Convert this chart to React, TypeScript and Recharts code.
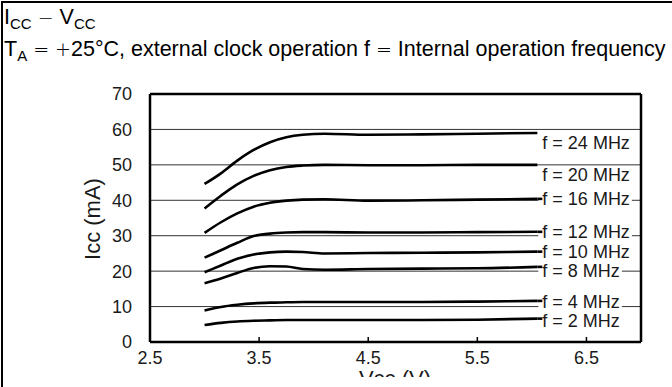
import { LineChart, Line, XAxis, YAxis, CartesianGrid, ReferenceLine } from 'recharts';

const VCC = [3.0, 3.15, 3.3, 3.45, 3.6, 3.75, 3.9, 4.1, 4.5, 5.0, 5.5, 6.05];
const F24 = [44.6, 47.6, 51.2, 54.2, 56.4, 57.8, 58.5, 58.8, 58.5, 58.6, 58.8, 59.0];
const F20 = [37.7, 41.3, 44.5, 46.9, 48.5, 49.4, 49.8, 50.0, 49.9, 49.9, 50.0, 50.0];
const F16 = [30.8, 33.8, 36.3, 38.2, 39.3, 39.9, 40.2, 40.3, 39.9, 40.0, 40.2, 40.4];
const F12 = [23.8, 25.9, 28.0, 29.9, 30.6, 30.9, 31.0, 31.0, 30.9, 30.9, 31.0, 31.1];
const F10 = [19.7, 21.6, 23.5, 24.7, 25.3, 25.5, 25.4, 25.0, 25.1, 25.2, 25.3, 25.5];
const F8 = [16.6, 17.9, 19.5, 20.9, 21.4, 21.3, 20.6, 20.4, 20.6, 20.7, 20.8, 21.2];
const F4 = [8.9, 9.9, 10.5, 10.9, 11.1, 11.2, 11.3, 11.3, 11.3, 11.3, 11.4, 11.6];
const F2 = [4.8, 5.4, 5.8, 6.0, 6.1, 6.2, 6.2, 6.2, 6.2, 6.2, 6.3, 6.6];

const X_TICKS = [2.5, 3.5, 4.5, 5.5, 6.5];
const Y_TICKS = [0, 10, 20, 30, 40, 50, 60, 70];

const SERIES = [
  { key: 'f24', name: 'f = 24 MHz', values: F24 },
  { key: 'f20', name: 'f = 20 MHz', values: F20 },
  { key: 'f16', name: 'f = 16 MHz', values: F16 },
  { key: 'f12', name: 'f = 12 MHz', values: F12 },
  { key: 'f10', name: 'f = 10 MHz', values: F10 },
  { key: 'f8', name: 'f = 8 MHz', values: F8 },
  { key: 'f4', name: 'f = 4 MHz', values: F4 },
  { key: 'f2', name: 'f = 2 MHz', values: F2 },
];

// vertical nudge of the end labels (px)
const LABEL_DY: Record<string, number> = { f24: 10, f20: 10, f16: 0, f12: 0, f10: 0, f8: 4, f4: 1, f2: 1.5 };

const data = VCC.map((v, i) => {
  const row: Record<string, number> = { vcc: v };
  SERIES.forEach((s) => (row[s.key] = s.values[i]));
  return row;
});

const FONT = '"Liberation Sans", Arial, sans-serif';
const INK = '#1a1a1a';
const LABEL_SIZE = 18;
const GLYPH: Record<string, number> = { f: 0.278, ' ': 0.278, '=': 0.584, M: 0.833, H: 0.722, z: 0.5 };
const textWidth = (s: string) => s.split('').reduce((w, c) => w + (GLYPH[c] ?? 0.556), 0) * LABEL_SIZE;

const endLabel = (key: string, name: string) => (props: any) => {
  const { cx, cy, index } = props;
  if (index !== VCC.length - 1) return <g key={`${key}-${index}`} />;
  const dy = LABEL_DY[key];
  const y = cy + dy;
  const x = cx + 5;
  const w = textWidth(name);
  return (
    <g key={`${key}-${index}`}>
      <rect x={x - 4} y={y - 8} width={w + 6} height={16} fill="#fff" />
      {Math.abs(dy) < 5 && <line x1={cx} x2={x} y1={cy} y2={cy} stroke="#000" strokeWidth={2.6} />}
      <text x={x} y={y + 6.4} fontSize={LABEL_SIZE} fill={INK} fontFamily={FONT}>
        {name}
      </text>
    </g>
  );
};

const XTick = ({ x, y, payload }: any) => (
  <g>
    <line x1={x} x2={x} y1={y} y2={y - 5} stroke="#000" strokeWidth={1.5} />
    <text x={x} y={y + 22} textAnchor="middle" fontSize={18} fill={INK}>
      {payload.value}
    </text>
  </g>
);

const YTick = ({ x, y, payload }: any) => (
  <text x={x - 18} y={y + 6.4} textAnchor="end" fontSize={18} fill={INK}>
    {payload.value}
  </text>
);

const Sub = ({ children }: { children: string }) => (
  <span style={{ fontSize: 15, position: 'relative', top: 5 }}>{children}</span>
);
const Sym = ({ children }: { children: string }) => (
  <span style={{ fontFamily: '"DejaVu Sans", sans-serif', fontSize: 19, fontWeight: 300 }}>{children}</span>
);

export default function App() {
  return (
    <div style={{ position: 'fixed', left: 0, top: 0, width: 672, height: 387, background: '#fff', fontFamily: FONT, overflow: 'hidden' }}>
      <div style={{ position: 'absolute', left: 1, top: 1, width: 700, height: 400, borderTop: '2px solid #000', borderLeft: '2px solid #000' }} />
      <div style={{ position: 'absolute', left: 4, top: 2, fontSize: 21.5, lineHeight: '30px', color: '#000', whiteSpace: 'nowrap' }}>
        <div>
          I<Sub>CC</Sub> <Sym>−</Sym> V<Sub>CC</Sub>
        </div>
        <div>
          T<Sub>A</Sub> <Sym>=</Sym> <Sym>+</Sym>25°C, external clock operation f <Sym>=</Sym> Internal operation frequency
        </div>
      </div>
      <div style={{ position: 'absolute', left: 0, top: 0 }}>
        <LineChart width={672} height={387} data={data} margin={{ top: 94, right: 31, bottom: 15, left: 90 }}>
          <CartesianGrid vertical={false} stroke="#333" strokeWidth={1} />
          <XAxis
            dataKey="vcc"
            type="number"
            domain={[2.5, 7]}
            ticks={X_TICKS}
            allowDataOverflow
            height={30}
            tickSize={0}
            tickMargin={0}
            tickLine={false}
            axisLine={{ stroke: '#000', strokeWidth: 2.5 }}
            tick={<XTick />}
            label={{
              content: () => (
                <g>
                  <defs>
                    <clipPath id="xlab-clip">
                      <rect x={300} y={360} width={200} height={17} />
                    </clipPath>
                  </defs>
                  <text x={395} y={386} textAnchor="middle" fontSize={22} fill={INK} clipPath="url(#xlab-clip)">
                    Vcc (V)
                  </text>
                </g>
              ),
            }}
          />
          <YAxis
            type="number"
            domain={[0, 70]}
            ticks={Y_TICKS}
            width={60}
            tickSize={0}
            tickMargin={0}
            tickLine={false}
            axisLine={{ stroke: '#000', strokeWidth: 2.5 }}
            tick={<YTick />}
            label={{
              content: () => (
                <text x={100} y={219} transform="rotate(-90 100 219)" textAnchor="middle" fontSize={22} fill={INK}>
                  Icc (mA)
                </text>
              ),
            }}
          />
          <ReferenceLine y={70} stroke="#000" strokeWidth={2.5} />
          <ReferenceLine x={7} stroke="#000" strokeWidth={2.5} />
          {SERIES.map((s) => (
            <Line
              key={s.key}
              dataKey={s.key}
              type="monotone"
              stroke="#000"
              strokeWidth={2.6}
              dot={endLabel(s.key, s.name)}
              activeDot={false}
              isAnimationActive={false}
            />
          ))}
        </LineChart>
      </div>
    </div>
  );
}
